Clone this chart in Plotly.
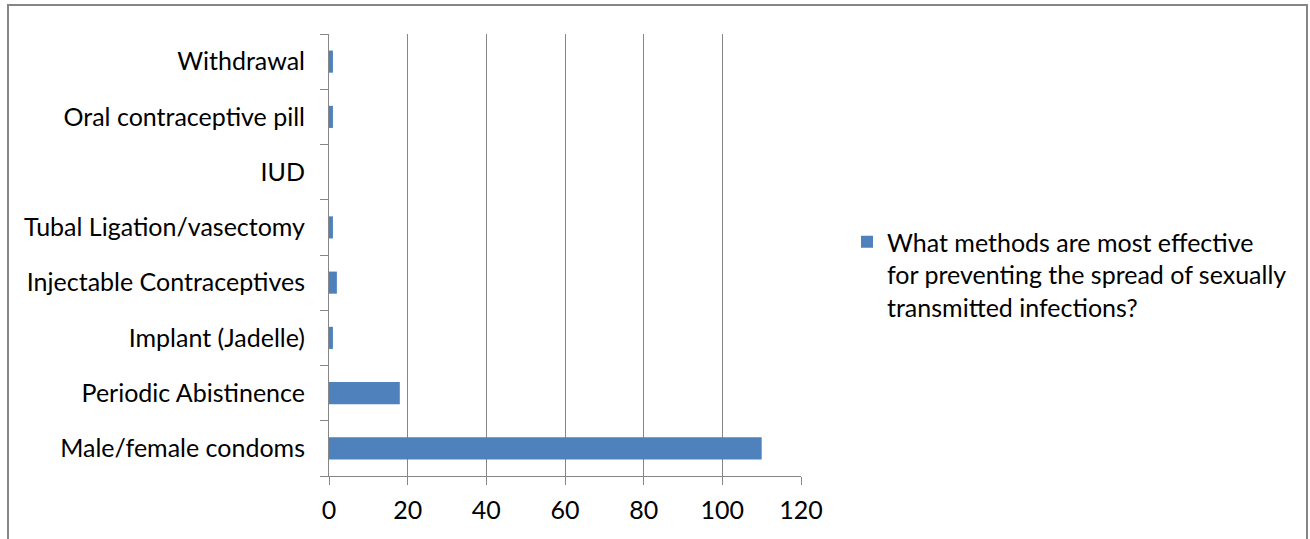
import plotly.graph_objects as go

categories = ["Male/female condoms", "Periodic Abistinence", "Implant (Jadelle)",
              "Injectable Contraceptives", "Tubal Ligation/vasectomy", "IUD",
              "Oral contraceptive pill", "Withdrawal"]
values = [110, 18, 1, 2, 1, 0, 1, 1]
series_name = "What methods are most effective<br>for preventing the spread of sexually<br>transmitted infections?"
x_ticks = [0, 20, 40, 60, 80, 100, 120]

FONT = "Lato, Liberation Sans, sans-serif"
FS = 25
GRID = "#868686"

fig = go.Figure()
fig.add_trace(go.Bar(
    y=categories, x=values, orientation="h", name=series_name,
    marker=dict(color="#4F81BD", line=dict(width=0)),
    showlegend=True,
))

L, R, T, B = 329, 801, 34, 476
W, H = 1310, 539
pw, ph = R - L, B - T

def px_x(p):
    return (p - L) / pw

def px_y(p):
    return (B - p) / ph

border = dict(color="#868686", width=2)
fig.update_layout(
    width=W, height=H,
    margin=dict(l=L, r=W - R, t=T, b=H - B, pad=0),
    paper_bgcolor="white", plot_bgcolor="white",
    font=dict(family=FONT, size=FS, color="black"),
    bargap=0.6,
    showlegend=True,
    legend=dict(
        x=px_x(847), y=px_y(219), xanchor="left", yanchor="top",
        font=dict(family=FONT, size=FS, color="black"),
        bgcolor="rgba(0,0,0,0)", itemwidth=30, tracegroupgap=0,
        valign="top",
    ),
    xaxis=dict(
        range=[0, 120], tickvals=x_ticks, ticktext=[str(v) for v in x_ticks],
        showgrid=True, gridcolor=GRID, gridwidth=1,
        showline=True, linecolor=GRID, linewidth=1,
        ticks="outside", ticklen=8, tickcolor=GRID,
        ticklabelstandoff=4,
        zeroline=False, fixedrange=True,
    ),
    yaxis=dict(
        categoryorder="array", categoryarray=categories,
        showgrid=False, showline=True, linecolor=GRID, linewidth=1,
        ticks="outside", ticklen=8, tickcolor=GRID, tickson="boundaries",
        ticklabelstandoff=18, fixedrange=True,
    ),
    shapes=[
        dict(type="line", xref="paper", yref="paper",
             x0=px_x(7), x1=px_x(1308), y0=px_y(5), y1=px_y(5), line=border),
        dict(type="line", xref="paper", yref="paper",
             x0=px_x(8), x1=px_x(8), y0=px_y(5), y1=px_y(560), line=border),
        dict(type="line", xref="paper", yref="paper",
             x0=px_x(1307), x1=px_x(1307), y0=px_y(5), y1=px_y(560), line=border),
    ],
)

fig.write_html("out.html", config={"displayModeBar": False})
